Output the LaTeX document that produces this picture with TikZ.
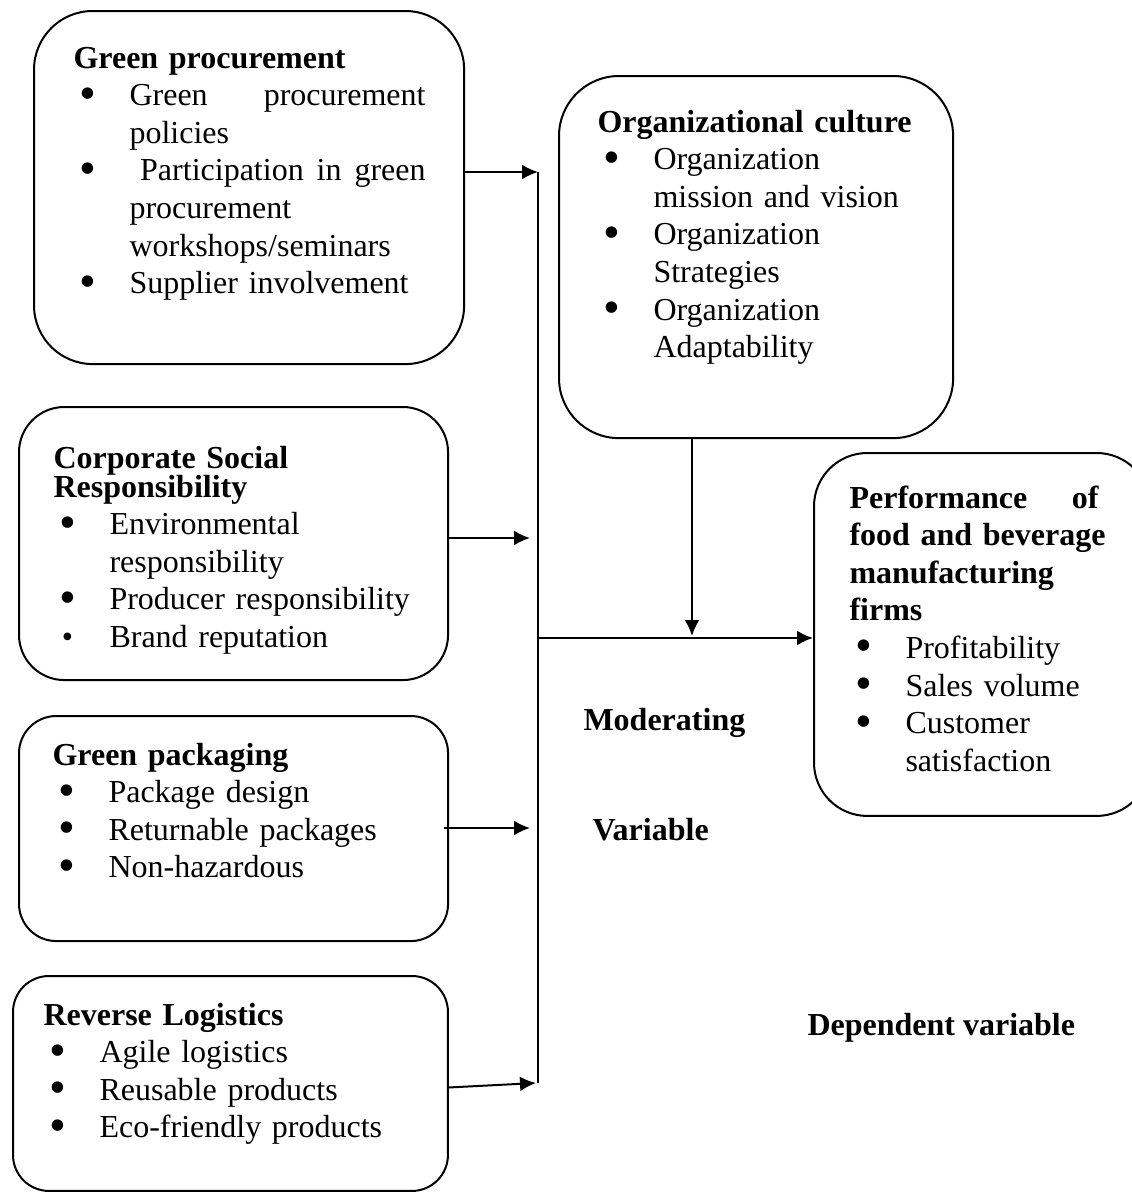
\documentclass[tikz,border=0pt]{standalone}
\usepackage{fontspec}
\usepackage{graphicx}
\setmainfont{Liberation Serif}
\usetikzlibrary{arrows.meta}

\newlength\bulind
\setlength\bulind{21pt}
\newcommand{\bigbul}{\raisebox{-1.3pt}[0pt][0pt]{\scalebox{1.5}{\textbullet}}}
\newcommand{\smallbul}{\hskip1pt\raisebox{0pt}[0pt][0pt]{\textbullet}}
\newcommand{\bitem}[2][\bigbul]{\par\noindent\hangindent=\bulind\hangafter=1\hbox to\bulind{\hskip2.1pt#1\hss}#2}

\begin{document}
\begin{tikzpicture}[x=0.375pt,y=-0.375pt]

\tikzstyle{varbox} = [draw,line width=0.75pt,inner sep=0pt,anchor=north west];
\tikzstyle{vartext} = [anchor=base west,inner sep=0pt,align=left,font=\fontsize{12}{14.1}\selectfont\setlength\parindent{0pt}];
\tikzstyle{varlabel} = [anchor=base west,inner sep=0pt,font=\fontsize{12}{14.1}\selectfont\bfseries];
\tikzstyle{arr} = [-{Latex[length=6pt,width=5.6pt]},line width=0.75pt];

\useasboundingbox (0,0) rectangle (1132,1192);

% independent variables
\node [varbox,minimum width=161.3pt,minimum height=132.4pt,rounded corners=22pt] (v1) at (33,10) {};
\node [vartext,text width=132pt] (v1t) at (73,68) {\textbf{Green procurement}
\bitem{Green\hfill procurement\newline policies}
\bitem{\ Participation\hfill in\hfill green\newline procurement\newline workshops/seminars}
\bitem{Supplier involvement}\par};

\node [varbox,minimum width=160.9pt,minimum height=102.4pt,rounded corners=17pt] (v2) at (18,406) {};
\node [vartext,text width=142pt] (v2t) at (53,468) {\textbf{Corporate Social\\[-3.2pt]Responsibility}
\bitem{Environmental\newline responsibility}
\bitem{Producer responsibility}
\bitem[\smallbul]{Brand reputation}\par};

\node [varbox,minimum width=160.9pt,minimum height=84.4pt,rounded corners=14pt] (v3) at (18,715) {};
\node [vartext,text width=142pt] (v3t) at (52,765) {\textbf{Green packaging}
\bitem{Package design}
\bitem{Returnable packages}
\bitem{Non-hazardous}\par};

\node [varbox,minimum width=163.1pt,minimum height=80.6pt,rounded corners=13.5pt] (v4) at (12,975) {};
\node [vartext,text width=142pt] (v4t) at (43,1025) {\textbf{Reverse Logistics}
\bitem{Agile logistics}
\bitem{Reusable products}
\bitem{Eco-friendly products}\par};

% moderating and dependent variables
\node [varbox,minimum width=147.8pt,minimum height=135.8pt,rounded corners=22.5pt] (mv) at (558,75) {};
\node [vartext,text width=127pt] (mvt) at (597,132) {\textbf{Organizational culture}
\bitem{Organization\newline mission and vision}
\bitem{Organization\newline Strategies}
\bitem{Organization\newline Adaptability}\par};

\node [varbox,minimum width=126pt,minimum height=136.1pt,rounded corners=20pt] (dv) at (813,452) {};
\node [vartext,text width=93.4pt] (dvt) at (849,508) {\textbf{Performance\hfill of\\\mbox{food and beverage}\\manufacturing\\firms}
\bitem{Profitability}
\bitem{Sales volume}
\bitem{Customer\newline satisfaction}\par};

\node [varlabel] (l1) at (583,730) {Moderating};
\node [varlabel] (l2) at (592,840) {Variable};
\node [varlabel] (l3) at (807,1035) {Dependent variable};

% connectors
\coordinate (j1) at (538,172);
\coordinate (j2) at (530,538);
\coordinate (j3) at (530,828);
\coordinate (j4) at (536,1083);
\coordinate (j5) at (538,638);
\coordinate (j6) at (692,636);

\draw [line width=0.75pt] (j1) -- (j1 |- j4);
\draw [arr] (v1.east |- j1) -- (j1);
\draw [arr] (v2.east |- j2) -- (j2);
\draw [arr] ([xshift=-2pt]v3.east |- j3) -- (j3);
\draw [arr] ([yshift=-1.5pt]v4.east) -- (j4);
\draw [arr] (j5) -- (dv.west |- j5);
\draw [arr] (mv.south -| j6) -- (j6);

\end{tikzpicture}
\end{document}
